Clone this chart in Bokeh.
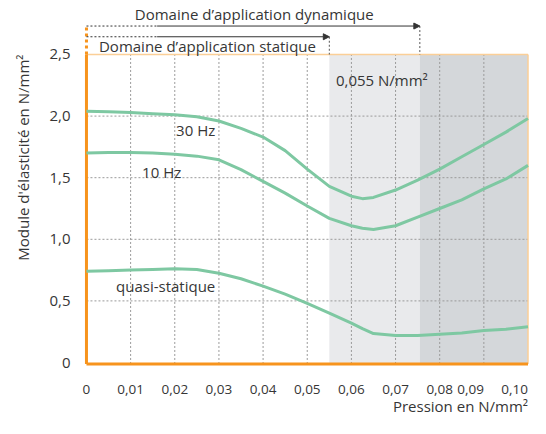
from bokeh.plotting import figure
from bokeh.models import Range1d, FixedTicker, Title, Arrow, NormalHead
from bokeh.core.properties import value
from bokeh.embed import file_html
from bokeh.resources import INLINE

# ---------------- data ----------------
pression = [0.0, 0.005, 0.01, 0.015, 0.02, 0.025, 0.03, 0.035, 0.04, 0.045, 0.05,
            0.055, 0.06, 0.0625, 0.065, 0.07, 0.075, 0.08, 0.085, 0.09, 0.095, 0.10]
module_30hz = [2.04, 2.035, 2.03, 2.02, 2.01, 1.995, 1.96, 1.90, 1.83, 1.72, 1.57,
               1.43, 1.35, 1.33, 1.34, 1.40, 1.48, 1.57, 1.67, 1.77, 1.87, 1.98]
module_10hz = [1.70, 1.705, 1.705, 1.70, 1.69, 1.675, 1.645, 1.565, 1.47, 1.375, 1.27,
               1.17, 1.11, 1.09, 1.08, 1.11, 1.18, 1.25, 1.32, 1.41, 1.49, 1.60]
module_quasi = [0.74, 0.745, 0.75, 0.755, 0.76, 0.755, 0.725, 0.68, 0.62, 0.555, 0.48,
                0.40, 0.32, 0.275, 0.235, 0.22, 0.22, 0.23, 0.24, 0.26, 0.27, 0.29]
series_names = ["30 Hz", "10 Hz", "quasi-statique"]

x_ticks = [0.0, 0.01, 0.02, 0.03, 0.04, 0.05, 0.06, 0.07, 0.08, 0.09, 0.10]
x_labels = ["0", "0,01", "0,02", "0,03", "0,04", "0,05", "0,06", "0,07", "0,08", "0,09", "0,10"]
y_ticks = [0.0, 0.5, 1.0, 1.5, 2.0, 2.5]
y_labels = ["0", "0,5", "1,0", "1,5", "2,0", "2,5"]

limite_statique = 0.055
limite_dynamique = 0.0755

# ---------------- style / layout ----------------
FONT = "Open Sans"
FS = "15px"
TXT = "#363636"
ORANGE = "#f7941d"
ORANGE_LIGHT = "#fbcf97"
GREEN = "#7ec8a2"
GRID = "#9a9a9a"

x_min, x_max = x_ticks[0], x_ticks[-1]
y_min, y_max = y_ticks[0], y_ticks[-1]
y_bottom = -0.012      # orange base line
y_dyn = 2.731          # arrow levels above the plot
y_stat = 2.644
y_ticklab = -0.219     # x tick label level
y_xtitle = -0.349      # x title level

p = figure(width=530, height=418, output_backend="svg", toolbar_location=None,
           x_range=Range1d(-0.001125, 0.100337), y_range=Range1d(-0.4545, 2.9383),
           min_border_left=78, min_border_right=1, min_border_top=0, min_border_bottom=0)
p.title.visible = False
p.outline_line_color = None
p.xgrid.visible = False
p.ygrid.visible = False
p.xaxis.visible = False

# shaded domains
p.quad(left=[limite_statique], right=[limite_dynamique], bottom=[y_bottom], top=[y_max],
       fill_color="#e9eaec", line_color=None)
p.quad(left=[limite_dynamique], right=[x_max], bottom=[y_bottom], top=[y_max],
       fill_color="#d4d7da", line_color=None)

# grid lines (dotted)
gx = x_ticks[1:-1]
p.segment(x0=gx, y0=[y_bottom] * len(gx), x1=gx, y1=[y_max] * len(gx),
          line_color=GRID, line_width=1, line_dash="2 2")
gy = y_ticks[1:-1]
p.segment(x0=[x_min] * len(gy), y0=gy, x1=[x_max] * len(gy), y1=gy,
          line_color=GRID, line_width=1, line_dash="2 2")

# frame lines
p.segment(x0=[x_min, x_max], y0=[y_max, y_bottom], x1=[x_max, x_max], y1=[y_max, y_max],
          line_color=ORANGE_LIGHT, line_width=1.5)
p.segment(x0=[x_min, x_min], y0=[y_bottom, y_bottom], x1=[x_min, x_max], y1=[y_max, y_bottom],
          line_color=ORANGE, line_width=3)
p.segment(x0=[x_min], y0=[y_max], x1=[x_min], y1=[y_dyn], line_color=ORANGE, line_width=3,
          line_dash="3 3")

# curves
for ys in (module_30hz, module_10hz, module_quasi):
    p.line(pression, ys, line_color=GREEN, line_width=3)

# curve labels
p.text(x=[0.0203, 0.0126, 0.0067], y=[1.89, 1.548, 0.618], text=series_names,
       text_font=value(FONT), text_font_size=FS, text_color=TXT,
       text_baseline="middle", text_align="left")

p.text(x=[0.0565], y=[2.29], text=["0,055 N/mm²"], text_font=value(FONT),
       text_font_size=FS, text_color=TXT, text_baseline="middle", text_align="left")

# domain arrows
dash_end = 0.016
p.segment(x0=[x_min, x_min], y0=[y_dyn, y_stat], x1=[dash_end, dash_end], y1=[y_dyn, y_stat],
          line_color="#333333", line_width=1, line_dash="2 2")
for xe, ye in ((limite_dynamique, y_dyn), (limite_statique, y_stat)):
    p.add_layout(Arrow(x_start=dash_end, y_start=ye, x_end=xe, y_end=ye,
                       line_color="#333333", line_width=1,
                       end=NormalHead(size=6, fill_color="#333333", line_color="#333333")))
p.segment(x0=[limite_dynamique, limite_statique], y0=[y_dyn, y_stat],
          x1=[limite_dynamique, limite_statique], y1=[y_max, y_max],
          line_color="#555555", line_width=1, line_dash="2 2")

p.text(x=[0.038], y=[2.826], text=["Domaine d’application dynamique"], text_font=value(FONT),
       text_font_size=FS, text_color=TXT, text_baseline="middle", text_align="center")
p.text(x=[0.0274], y=[2.565], text=["Domaine d’application statique"], text_font=value(FONT),
       text_font_size=FS, text_color=TXT, text_baseline="middle", text_align="center")

# x tick labels and title (drawn below the plot area via the x scale)
n_c = len(x_ticks) - 2
p.text(x=x_ticks[:n_c], y=[y_ticklab] * n_c, text=x_labels[:n_c], text_font=value(FONT),
       text_font_size="13.5px", text_color=TXT, text_baseline="middle", text_align="center")
p.text(x=x_ticks[n_c:], y=[y_ticklab] * 2, text=x_labels[n_c:], text_font=value(FONT),
       text_font_size="13.5px", text_color=TXT, text_baseline="middle", text_align="right")
p.text(x=[x_max], y=[y_xtitle], text=["Pression en N/mm²"], text_font=value(FONT),
       text_font_size=FS, text_color=TXT, text_baseline="middle", text_align="right")

# y axis
p.yaxis.ticker = FixedTicker(ticks=y_ticks)
p.yaxis.major_label_overrides = {t: lab for t, lab in zip(y_ticks, y_labels)}
p.yaxis.axis_line_color = None
p.yaxis.major_tick_line_color = None
p.yaxis.minor_tick_line_color = None
p.yaxis.major_tick_out = 0
p.yaxis.major_tick_in = 0
p.yaxis.major_label_standoff = 11
p.yaxis.major_label_text_font = FONT
p.yaxis.major_label_text_font_size = FS
p.yaxis.major_label_text_color = TXT

p.add_layout(Title(text="Module d'élasticité en N/mm²", align="right", offset=54,
                   vertical_align="top", text_font=FONT, text_font_size=FS,
                   text_font_style="normal", text_color=TXT, standoff=24), "left")

open("out.html", "w").write(file_html(p, INLINE))
